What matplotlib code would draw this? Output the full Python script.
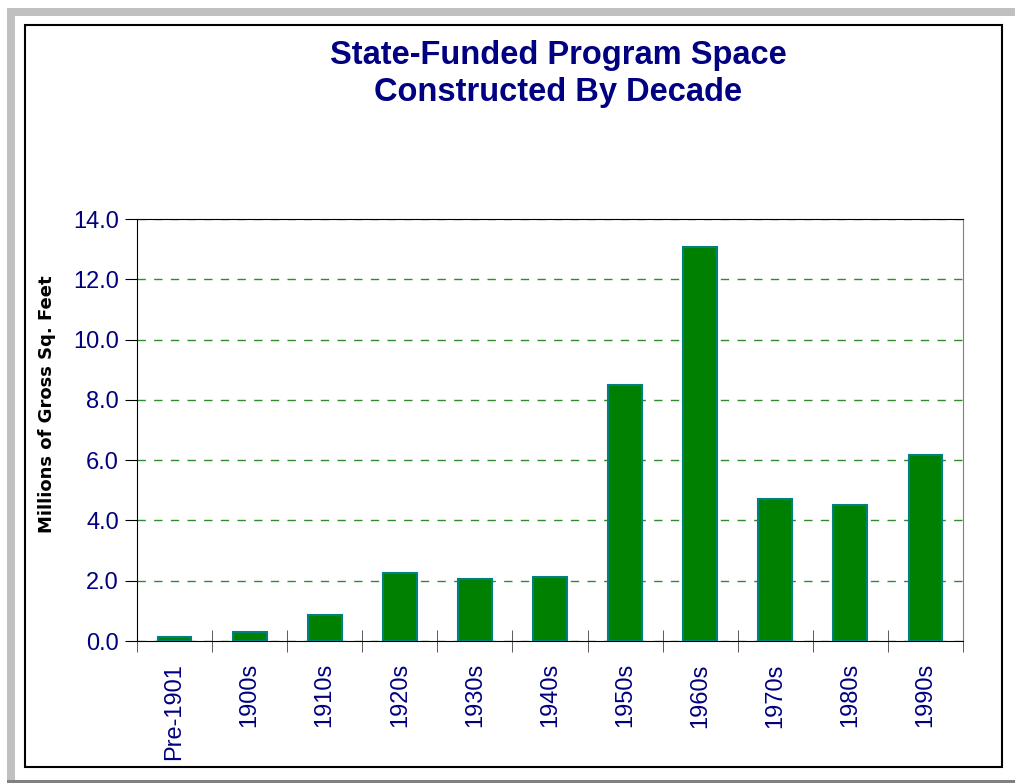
import matplotlib.pyplot as plt
from matplotlib.patches import Rectangle

decades = ["Pre-1901", "1900s", "1910s", "1920s", "1930s", "1940s",
           "1950s", "1960s", "1970s", "1980s", "1990s"]
sq_feet = [0.13, 0.30, 0.87, 2.25, 2.05, 2.12, 8.50, 13.07, 4.71, 4.51, 6.17]
y_ticks = [0.0, 2.0, 4.0, 6.0, 8.0, 10.0, 12.0, 14.0]

NAVY = "#000080"
W, H = 1015, 783

plt.rcParams["font.family"] = ["Liberation Sans", "DejaVu Sans"]

fig = plt.figure(figsize=(W / 100, H / 100), dpi=100)

# sunken window frame
fig.patches.append(Rectangle((7 / W, 0), 8 / W, 1 - 8 / H, transform=fig.transFigure,
                             facecolor="#c0c0c0", edgecolor="none"))
fig.patches.append(Rectangle((7 / W, 1 - 16 / H), 1 - 7 / W, 8 / H, transform=fig.transFigure,
                             facecolor="#c0c0c0", edgecolor="none"))
fig.patches.append(Rectangle((7 / W, 0), 1 - 7 / W, 3 / H, transform=fig.transFigure,
                             facecolor="#808080", edgecolor="none"))
fig.patches.append(Rectangle((24.5 / W, 1 - 767 / H), 977 / W, 742 / H, transform=fig.transFigure,
                             facecolor="none", edgecolor="black", linewidth=1.5))

ax = fig.add_axes([137 / W, 1 - 641 / H, 826 / W, 422 / H])
x = list(range(len(decades)))
ax.bar(x, sq_feet, width=0.45, color="#008000", edgecolor="#008080", linewidth=1.5, zorder=3)

ax.set_xlim(-0.5, len(decades) - 0.5)
ax.set_ylim(0, 14)
ax.set_yticks(y_ticks)
ax.set_yticklabels([f"{v:.1f}" for v in y_ticks], color=NAVY, fontsize=17)
ax.set_xticks(x)
ax.set_xticklabels(decades, rotation=90, color=NAVY, fontsize=17)
ax.tick_params(axis="x", length=0, pad=16)
ax.set_xticks([i + 0.5 for i in range(-1, len(decades))], minor=True)
ax.tick_params(axis="x", which="minor", direction="inout", length=16, color="#404040")
ax.tick_params(axis="y", direction="out", length=9, pad=4)

ax.grid(axis="y", color="#2e8b2e", linestyle=(0, (6, 6)), linewidth=1, zorder=1)
ax.spines["right"].set_color("#808080")
for s in ["left", "bottom", "top"]:
    ax.spines[s].set_color("black")

ax.set_ylabel("Millions of Gross Sq. Feet", fontsize=13, fontweight="bold",
              family="DejaVu Sans")
ax.yaxis.set_label_coords((56 - 137) / 826, (641 - 404) / 422)

fig.text(558 / W, 1 - 74 / H, "State-Funded Program Space\nConstructed By Decade",
         ha="center", va="center", fontsize=23.5, fontweight="bold", color=NAVY, linespacing=1.27)

fig.savefig("out.png", dpi=100)
